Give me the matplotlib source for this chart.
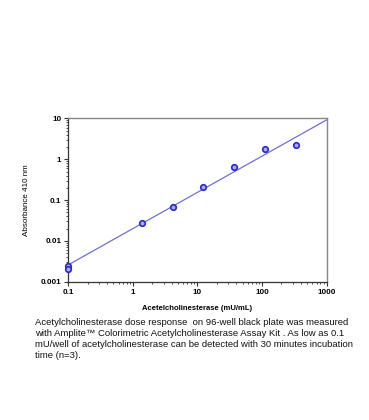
import matplotlib
matplotlib.use("Agg")
import matplotlib.pyplot as plt
from matplotlib.ticker import LogLocator, FixedLocator, FixedFormatter, NullFormatter

plt.rcParams['font.family'] = ['Liberation Sans', 'DejaVu Sans']

# enzyme concentration (mU/mL) vs absorbance at 410 nm
conc = [0.1, 0.1, 1.37, 4.12, 12.3, 37.0, 111.0, 333.0]
absorbance = [0.0025, 0.0021, 0.027, 0.067, 0.21, 0.63, 1.75, 2.25]

# fitted line end points
fit_x = [0.1, 1000]
fit_y = [0.0026, 9.2]

x_ticks = [0.1, 1, 10, 100, 1000]
x_labels = ['0.1', '1', '10', '100', '1000']
y_ticks = [0.001, 0.01, 0.1, 1, 10]
y_labels = ['0.001', '0.01', '0.1', '1', '10']

caption = ("Acetylcholinesterase dose response  on 96-well black plate was measured\n"
           "with Amplite\u2122 Colorimetric Acetylcholinesterase Assay Kit . As low as 0.1\n"
           "mU/well of acetylcholinesterase can be detected with 30 minutes incubation\n"
           "time (n=3).")

fig = plt.figure(figsize=(3.69, 4.2), dpi=100)
ax = fig.add_axes([0.185, 0.329, 0.700, 0.389])

ax.plot(fit_x, fit_y, '-', color='#6f6fd6', lw=0.9)
ax.plot(conc, absorbance, 'o', ms=4.0, mfc='#a8a8ee', mec='#2a2ac8', mew=1.2,
        linestyle='none', clip_on=False, zorder=3)

ax.set_xscale('log')
ax.set_yscale('log')
ax.set_xlim(0.1, 1000)
ax.set_ylim(0.001, 10)

ax.xaxis.set_major_locator(FixedLocator(x_ticks))
ax.xaxis.set_major_formatter(FixedFormatter(x_labels))
ax.yaxis.set_major_locator(FixedLocator(y_ticks))
ax.yaxis.set_major_formatter(FixedFormatter(y_labels))
ax.xaxis.set_minor_locator(LogLocator(base=10, subs=range(2, 10)))
ax.yaxis.set_minor_locator(LogLocator(base=10, subs=range(2, 10)))
ax.xaxis.set_minor_formatter(NullFormatter())
ax.yaxis.set_minor_formatter(NullFormatter())

ax.tick_params(which='major', direction='out', length=3, width=0.8, labelsize=5.8,
               pad=2, color='#333333')
ax.tick_params(which='minor', direction='out', length=1.6, width=0.6, color='#333333')
for lab in ax.get_xticklabels() + ax.get_yticklabels():
    lab.set_fontweight('bold')

for side in ['top', 'right']:
    ax.spines[side].set_color('#888888')
    ax.spines[side].set_linewidth(1.0)
for side in ['left', 'bottom']:
    ax.spines[side].set_color('#333333')
    ax.spines[side].set_linewidth(0.9)

ax.set_xlabel('Acetelcholinesterase (mU/mL)', fontsize=5.5, fontweight='bold', labelpad=7)
ax.set_ylabel('Absorbance 410 nm', fontsize=5.8, labelpad=8)

fig.text(35 / 369, 1 - 318 / 420, caption, fontsize=6.8, va='top', ha='left',
         linespacing=1.28, color='#111111')

fig.savefig('out.png', dpi=100)
